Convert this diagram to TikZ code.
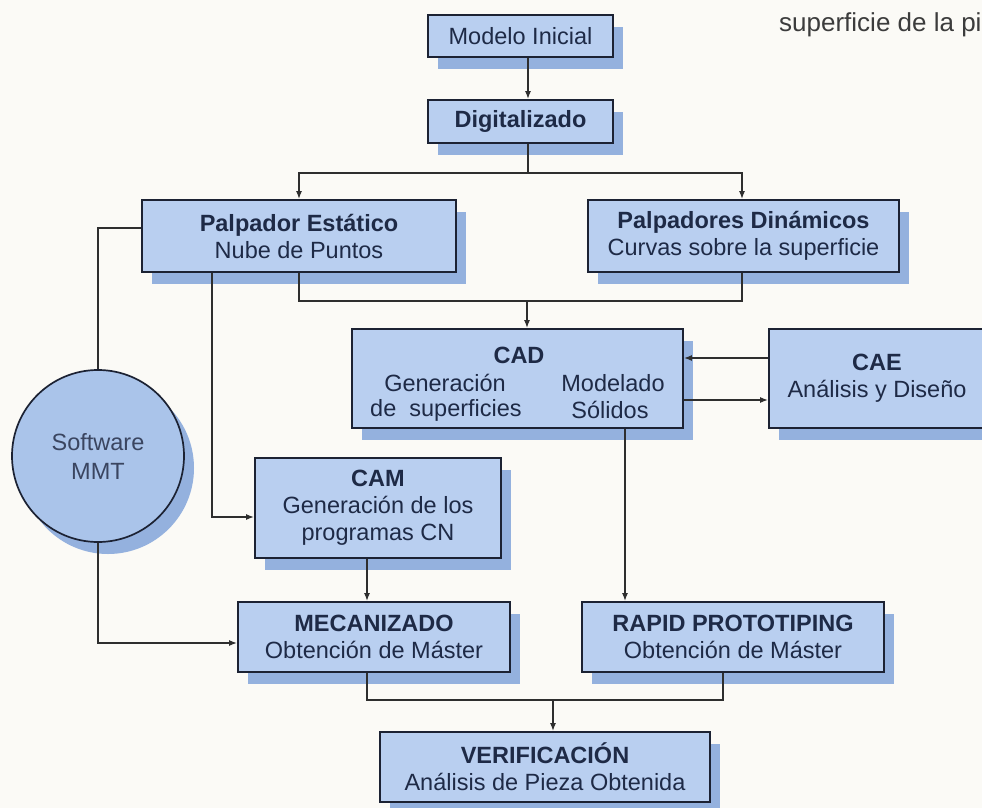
\documentclass[tikz,border=0pt]{standalone}
\usepackage{fontspec}
\setmainfont{Liberation Sans}
\usetikzlibrary{arrows.meta,shadows}
\definecolor{bgcol}{HTML}{FBFAF6}
\definecolor{boxfill}{HTML}{B9CFF0}
\definecolor{shadowcol}{HTML}{94B1DE}
\definecolor{circfill}{HTML}{AAC4EA}
\definecolor{edgecol}{HTML}{1C2233}
\definecolor{linecol}{HTML}{2E2E2E}
\definecolor{textcol}{HTML}{1E2A46}
\definecolor{circtext}{HTML}{3A4560}
\definecolor{graytext}{HTML}{3C3C3C}
\begin{document}
\begin{tikzpicture}[x=1pt,y=-1pt,
  txt/.style={font=\fontsize{23.5}{27}\selectfont, text=textcol},
  box/.style={txt, draw=edgecol, line width=1.7pt, fill=boxfill, align=center, inner sep=0pt,
    general shadow={fill=shadowcol, shadow xshift=10pt, shadow yshift=-12pt}},
  lbl/.style={txt, inner sep=0pt, anchor=center},
  arr/.style={draw=linecol, line width=1.7pt, -{Latex[length=8pt,width=6pt]}},
  ln/.style={draw=linecol, line width=1.7pt}]
\useasboundingbox (0,0) rectangle (982,808);
\fill[bgcol] (0,0) rectangle (982,808);
\clip (0,0) rectangle (982,808);

% top-right fragment of text
\node[txt, text=graytext, anchor=west, inner sep=0pt, font=\fontsize{26}{30}\selectfont] (frag) at (779,25) {superficie de la pi};

% boxes
\node[box, minimum width=185pt, minimum height=42pt] (mod) at (520.5,36) {Modelo Inicial};
\node[box, minimum width=185pt, minimum height=43pt] (dig) at (520.5,121.5) {\textbf{Digitalizado}};
\node[box, minimum width=314pt, minimum height=72pt] (est) at (299,236) {\textbf{Palpador Estático}\\Nube de Puntos};
\node[box, minimum width=311pt, minimum height=72pt] (din) at (743.5,236) {\textbf{Palpadores Dinámicos}\\Curvas sobre la superficie};
\node[box, minimum width=331pt, minimum height=99pt] (cad) at (517.5,378.5) {};
\node[box, minimum width=216pt, minimum height=99pt] (cae) at (877,378.5) {\textbf{CAE}\\Análisis y Diseño};
\node[box, circle, fill=circfill, minimum size=172pt, text=circtext,
      font=\fontsize{23.5}{29}\selectfont] (mmt) at (98,456) {Software\\MMT};
\node[box, minimum width=246pt, minimum height=100pt] (cam) at (378,508) {\textbf{CAM}\\Generación de los\\programas CN};
\node[box, minimum width=272pt, minimum height=70pt] (mec) at (374,637) {\textbf{MECANIZADO}\\Obtención de Máster};
\node[box, minimum width=302pt, minimum height=70pt] (rap) at (733,637) {\textbf{RAPID PROTOTIPING}\\Obtención de Máster};
\node[box, minimum width=330pt, minimum height=70pt] (ver) at (545,767) {\textbf{VERIFICACIÓN}\\Análisis de Pieza Obtenida};

% CAD inner texts
\node[lbl] (cadt) at (519,355) {\textbf{CAD}};
\node[lbl] (cadg) at (445,383) {Generación};
\node[lbl] (cads) at (446,410) {de\ \ superficies};
\node[lbl] (cadm) at (613,383) {Modelado};
\node[lbl] (cado) at (610,410) {Sólidos};

% connectors
\draw[arr] ([xshift=7.5pt]mod.south) -- ([xshift=7.5pt]dig.north);
\coordinate (split) at ([xshift=7.5pt,yshift=-29pt]dig.south);
\draw[ln] ([xshift=7.5pt]dig.south) -- (split);
\draw[arr] (split) -| (est.north);
\draw[arr] (split) -| ([xshift=-1.5pt]din.north);

\coordinate (jest) at ([yshift=-28pt]est.south);
\coordinate (jdin) at ([xshift=-1.5pt,yshift=-28pt]din.south);
\draw[ln] (est.south) -- (jest) -- (jdin) -- ([xshift=-1.5pt]din.south);
\coordinate (jcad) at (527,300);
\draw[arr] (jcad) -- (jcad |- cad.north);

\draw[arr] ([yshift=20.5pt]cae.west) -- ([yshift=20.5pt]cad.east);
\draw[arr] ([yshift=-21.5pt]cad.east) -- ([yshift=-21.5pt]cae.west);

\coordinate (cadout) at ([xshift=107.5pt]cad.south);
\draw[arr] (cadout) -- (cadout |- rap.north);

\draw[ln] ([yshift=8pt]est.west) -| (mmt.north);
\draw[arr] (mmt.south) |- ([yshift=-6pt]mec.west);

\coordinate (estout) at ([xshift=-87pt]est.south);
\draw[arr] (estout) |- ([yshift=-9pt]cam.west);

\coordinate (camout) at ([xshift=-11pt]cam.south);
\draw[arr] (camout) -- (camout |- mec.north);

\coordinate (mecout) at ([xshift=-7pt]mec.south);
\coordinate (rapout) at ([xshift=-10pt]rap.south);
\coordinate (jver) at (553,700);
\draw[ln] (mecout) |- (jver) -| (rapout);
\draw[arr] (jver) -- (jver |- ver.north);
\end{tikzpicture}
\end{document}
